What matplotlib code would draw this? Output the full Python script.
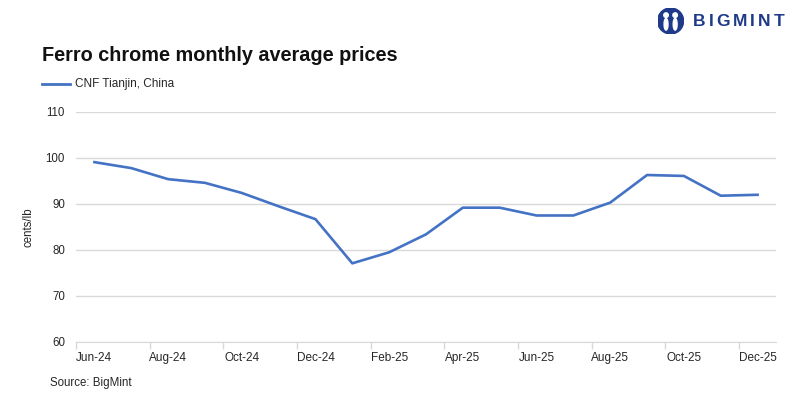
import matplotlib.pyplot as plt
from matplotlib.patches import Circle, Ellipse

plt.rcParams['font.family'] = ['Liberation Sans', 'DejaVu Sans']

# monthly average prices, cents/lb
months = ['Jun-24', 'Jul-24', 'Aug-24', 'Sep-24', 'Oct-24', 'Nov-24', 'Dec-24',
          'Jan-25', 'Feb-25', 'Mar-25', 'Apr-25', 'May-25', 'Jun-25', 'Jul-25',
          'Aug-25', 'Sep-25', 'Oct-25', 'Nov-25', 'Dec-25']
prices = [99.1, 97.8, 95.4, 94.6, 92.4, 89.5, 86.7, 77.1, 79.5, 83.4,
          89.2, 89.2, 87.5, 87.5, 90.3, 96.3, 96.1, 91.8, 92.0]
series_name = 'CNF Tianjin, China'
yticks = [60, 70, 80, 90, 100, 110]

blue = '#4472C4'
txt = '#262626'
grid = '#D9D9D9'

fig = plt.figure(figsize=(8, 3.99), dpi=100)
ax = fig.add_axes([0.095, 0.1429, 0.875, 0.5764])

x = range(len(months))
ax.plot(x, prices, color=blue, lw=1.9, solid_joinstyle='round')

ax.set_xlim(-0.5, len(months) - 0.5)
ax.set_ylim(60, 110)
ax.set_yticks(yticks)
ax.yaxis.grid(True, color=grid, lw=1)
ax.set_axisbelow(True)
ax.tick_params(axis='y', length=0, pad=8, labelsize=8.3, labelcolor=txt)

# labels on every other month, tick marks between categories
ax.set_xticks(list(x)[::2])
ax.set_xticklabels(months[::2])
ax.set_xticks([i - 0.5 for i in range(0, len(months) + 1, 2)], minor=True)
ax.tick_params(axis='x', which='major', length=0, pad=7, labelsize=8.5, labelcolor=txt)
ax.tick_params(axis='x', which='minor', length=5, color=grid, width=1)

for s in ['top', 'right', 'left']:
    ax.spines[s].set_visible(False)
ax.spines['bottom'].set_color(grid)

ax.set_ylabel('cents/lb', fontsize=8.3, color=txt, labelpad=8)

fig.text(0.0525, 0.862, 'Ferro chrome monthly average prices', fontsize=14.3,
         fontweight='bold', color='#111111', va='center')
fig.lines.append(plt.Line2D([0.0525, 0.0875], [0.789, 0.789], color=blue, lw=2,
                            transform=fig.transFigure))
fig.text(0.094, 0.789, series_name, fontsize=8.5, color=txt, va='center')
fig.text(0.0625, 0.040, 'Source: BigMint', fontsize=8.3, color=txt, va='center')

# logo
logo = '#1F3A8A'
lax = fig.add_axes([0.822, 0.9148, 0.0325, 0.0652])
lax.set_xlim(-1, 1)
lax.set_ylim(-1, 1)
lax.axis('off')
lax.add_patch(Circle((0, 0), 1, color=logo))
lax.add_patch(Ellipse((-0.35, 0.45), 0.35, 0.35, color='white'))
lax.add_patch(Ellipse((0.35, 0.45), 0.35, 0.35, color='white'))
lax.add_patch(Ellipse((-0.35, -0.25), 0.3, 0.9, color='white'))
lax.add_patch(Ellipse((0.35, -0.25), 0.3, 0.9, color='white'))

# letter-spaced wordmark
renderer = fig.canvas.get_renderer()
xpos = 693
for ch in 'BIGMINT':
    t = fig.text(xpos / 800, 0.945, ch, fontsize=12.5, fontweight='bold',
                 color=logo, ha='left', va='center')
    xpos += t.get_window_extent(renderer).width + 3

fig.savefig('out.png', dpi=100)
